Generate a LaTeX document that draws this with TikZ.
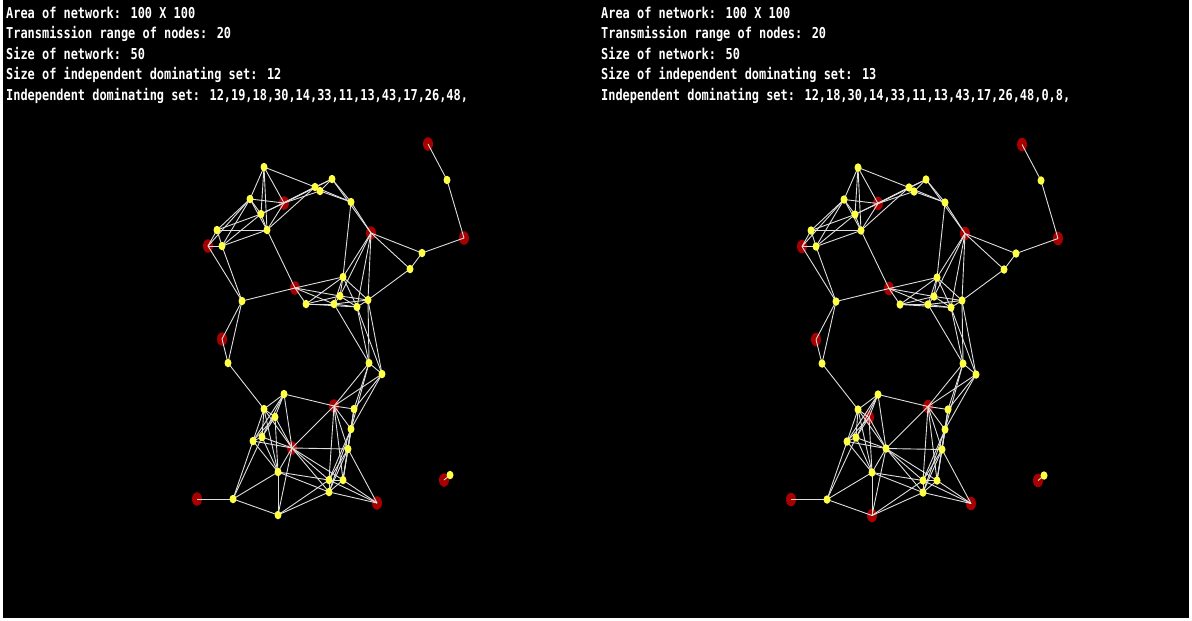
\documentclass[tikz,border=0pt]{standalone}
\usepackage{fontspec}
\usetikzlibrary{shapes.geometric}
\newfontfamily\dosfont[FakeStretch=0.795]{DejaVu Sans Mono}
\definecolor{nodered}{RGB}{168,0,0}
\definecolor{nodeyellow}{RGB}{255,255,70}
\definecolor{edgegray}{RGB}{222,222,222}
\tikzset{
  ynode/.style={ellipse, fill=nodeyellow, minimum width=7pt, minimum height=8.5pt, inner sep=0pt},
  rnode/.style={ellipse, fill=nodered, minimum width=10pt, minimum height=13.5pt, inner sep=0pt},
  edge/.style={draw=edgegray, line width=0.9pt},
  info/.style={text=white, font=\dosfont\bfseries\fontsize{15}{15}\selectfont, anchor=base west, inner sep=0pt}
}
% x/y/left-red/right-red
\def\pts{264/167/0/0, 332/179/0/0, 315/187/0/0, 320/191/0/0, 250/199/0/0,
284/203/1/1, 351/202/0/0, 261/214/0/0, 217/230/0/0, 267/230/0/0,
371/233/1/1, 208/246/1/1, 222/246/0/0, 343/277/0/0, 295/288/1/1,
242/301/0/0, 340/296/0/0, 306/304/0/0, 334/304/0/0, 357/307/0/0,
368/300/0/0, 428/144/1/1, 447/180/0/0, 464/238/1/1, 422/253/0/0,
410/269/0/0, 222/339/1/1, 228/363/0/0, 369/363/0/0, 382/374/0/0,
284/394/0/0, 264/409/0/0, 334/406/1/1, 354/409/0/0, 275/417/0/1,
351/429/0/0, 262/437/0/0, 253/441/0/0, 292/448/1/0, 348/449/0/0,
278/472/0/0, 329/480/0/0, 343/480/0/0, 329/492/0/0, 197/499/1/1,
233/499/0/0, 377/503/1/1, 278/515/0/1, 444/480/1/1, 450/475/0/0}
\begin{document}
\begin{tikzpicture}[x=1pt,y=-1pt]
\fill[white] (0,0) rectangle (1192,621);
\fill[black] (3,0) rectangle (1189,618);
\useasboundingbox (0,0) rectangle (1192,621);
% positions
\foreach \px/\py/\fl/\fr [count=\i] in \pts {
  \coordinate (Lc\i) at (\px,\py);
  \coordinate (Rc\i) at (\px+594,\py+0.5);
}
% red nodes
\foreach \px/\py/\fl/\fr [count=\i] in \pts {
  \ifnum\fl=1 \node[rnode] (Ln\i) at (Lc\i) {};\fi
  \ifnum\fr=1 \node[rnode] (Rn\i) at (Rc\i) {};\fi
}
% connectors: nodes within transmission range
\foreach \xa/\ya/\fa/\fb [count=\i] in \pts {
  \foreach \xb/\yb/\fc/\fd [count=\j] in \pts {
    \ifnum\j>\i
      \pgfmathtruncatemacro\ok{(((\xa-\xb)/58)*((\xa-\xb)/58)+((\ya-\yb)/77)*((\ya-\yb)/77))<1}
      \ifnum\ok=1
        \draw[edge] (Lc\i) -- (Lc\j);
        \draw[edge] (Rc\i) -- (Rc\j);
      \fi
    \fi
  }
}
% yellow nodes
\foreach \px/\py/\fl/\fr [count=\i] in \pts {
  \ifnum\fl=0 \node[ynode] (Ln\i) at (Lc\i) {};\fi
  \ifnum\fr=0 \node[ynode] (Rn\i) at (Rc\i) {};\fi
}
% texts
\node[info] (tl1) at (6,18) {Area of network: 100 X 100};
\node[info] (tl2) at (6,38.5) {Transmission range of nodes: 20};
\node[info] (tl3) at (6,59) {Size of network: 50};
\node[info] (tl4) at (6,79.5) {Size of independent dominating set: 12};
\node[info] (tl5) at (6,100) {Independent dominating set: 12,19,18,30,14,33,11,13,43,17,26,48,};
\node[info] (tr1) at (601,18) {Area of network: 100 X 100};
\node[info] (tr2) at (601,38.5) {Transmission range of nodes: 20};
\node[info] (tr3) at (601,59) {Size of network: 50};
\node[info] (tr4) at (601,79.5) {Size of independent dominating set: 13};
\node[info] (tr5) at (601,100) {Independent dominating set: 12,18,30,14,33,11,13,43,17,26,48,0,8,};
\end{tikzpicture}
\end{document}
